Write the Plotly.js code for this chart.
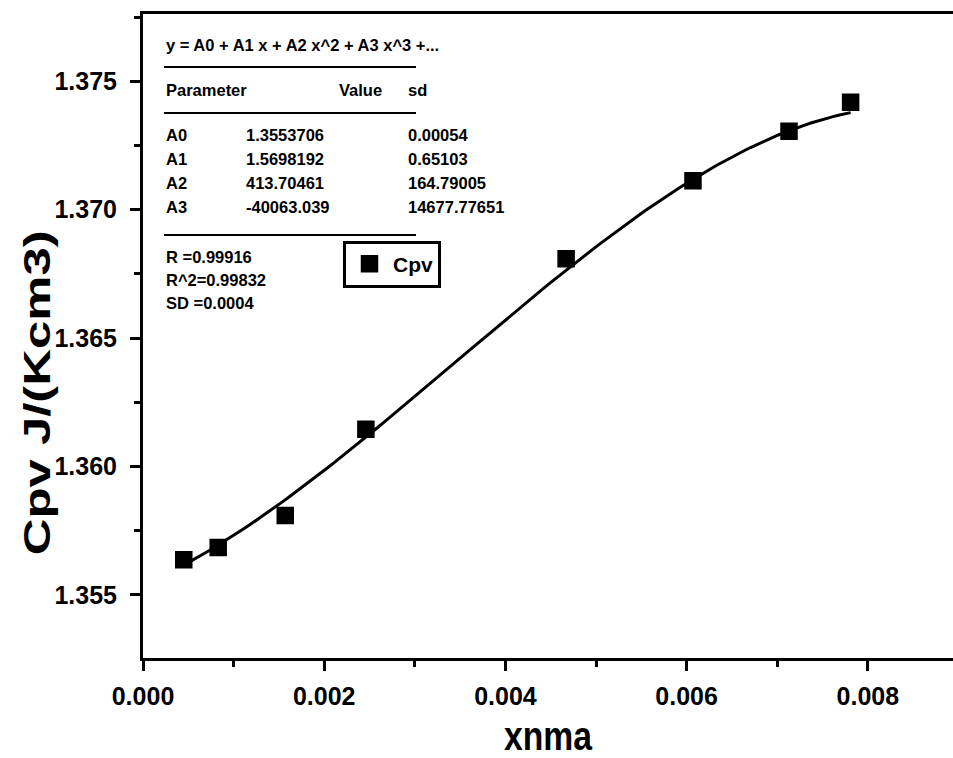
<!DOCTYPE html>
<html>
<head>
<meta charset="utf-8">
<script src="https://cdn.plot.ly/plotly-3.0.1.min.js"></script>
<style>
  html, body { margin: 0; padding: 0; background: #ffffff; }
  #chart { width: 953px; height: 758px; }
</style>
</head>
<body>
<div id="chart"></div>
<script>
// Measured heat capacity Cpv against xnma
const xnma = [0.00045, 0.00083, 0.00157, 0.00246, 0.00467, 0.00607, 0.00713, 0.00781];
const cpv  = [1.35637, 1.35684, 1.35809, 1.36145, 1.36809, 1.37113, 1.37305, 1.37418];

// Cubic polynomial fit y = A0 + A1 x + A2 x^2 + A3 x^3
const paramNames  = ['A0', 'A1', 'A2', 'A3'];
const paramValues = [1.3553706, 1.5698192, 413.70461, -40063.039];
const paramSd     = [0.00054, 0.65103, 164.79005, 14677.77651];
const fitStats    = { R: '0.99916', R2: '0.99832', SD: '0.0004' };

const xTicks = [0, 0.002, 0.004, 0.006, 0.008];
const yTicks = [1.355, 1.360, 1.365, 1.370, 1.375];

// Fitted curve evaluated from the fit parameters across the measured span
const fitX = [], fitY = [];
const nFit = 120;
for (let i = 0; i <= nFit; i++) {
  const x = xnma[0] + (xnma[xnma.length - 1] - xnma[0]) * i / nFit;
  let y = 0;
  for (let k = 0; k < paramValues.length; k++) y += paramValues[k] * Math.pow(x, k);
  fitX.push(x); fitY.push(y);
}

// Plot frame in pixels
const W = 953, H = 758;
const M = { l: 143, r: 0, t: 14, b: 100 };
const PW = W - M.l - M.r, PH = H - M.t - M.b;
const px = v => (v - M.l) / PW;
const py = v => (H - M.b - v) / PH;

const FONT = 'Liberation Sans, Arial, sans-serif';
const boxFont = { family: FONT, size: 16.5, color: '#000', weight: 700 };

const annotations = [];
function label(text, x, y, anchor) {
  annotations.push({
    text: text, xref: 'paper', yref: 'paper', x: px(x), y: py(y),
    xanchor: anchor || 'left', yanchor: 'middle', showarrow: false, font: boxFont
  });
}

label('y = A0 + A1 x + A2 x^2 + A3 x^3 +...', 164, 45);
label('Parameter', 164, 90);
label('Value', 337, 90);
label('sd', 406, 90);
paramNames.forEach((n, i) => {
  const yy = 135 + i * 24;
  label(n, 164, yy);
  label(String(paramValues[i]), 244, yy);
  label(String(paramSd[i]), 406, yy);
});
label('R =' + fitStats.R, 164, 257);
label('R^2=' + fitStats.R2, 164, 280);
label('SD =' + fitStats.SD, 164, 303);

// Vertical axis title
annotations.push({
  text: 'Cpv J/(Kcm3)', xref: 'paper', yref: 'paper',
  x: px(38), y: py(393), xanchor: 'center', yanchor: 'middle',
  textangle: -90, showarrow: false,
  font: { family: FONT, size: 37, color: '#000', weight: 700 }
});

const rule = y => ({
  type: 'line', xref: 'paper', yref: 'paper',
  x0: px(164), x1: px(416), y0: py(y), y1: py(y),
  line: { color: '#000', width: 2 }
});
const shapes = [rule(67), rule(113), rule(235)];

const traces = [
  {
    x: fitX, y: fitY, type: 'scatter', mode: 'lines',
    line: { color: '#000', width: 3 }, showlegend: false, hoverinfo: 'skip'
  },
  {
    x: xnma, y: cpv, type: 'scatter', mode: 'markers', name: 'Cpv',
    marker: { symbol: 'square', size: 16, color: '#000', line: { color: '#000', width: 1.5 } }
  }
];

const axisBase = {
  showline: true, linecolor: '#000', linewidth: 3,
  showgrid: false, zeroline: false,
  ticks: 'outside', ticklen: 10, tickwidth: 3, tickcolor: '#000',
  tickfont: { family: FONT, size: 25, color: '#000', weight: 700 },
  tickformat: '.3f'
};

const layout = {
  width: W, height: H,
  margin: M,
  paper_bgcolor: '#fff', plot_bgcolor: '#fff',
  font: { family: FONT, color: '#000' },
  xaxis: Object.assign({}, axisBase, {
    range: [0, 0.00894], tickvals: xTicks, mirror: true,
    ticklabelstandoff: 4,
    minor: { dtick: 0.001, ticks: 'outside', ticklen: 6, tickwidth: 3, tickcolor: '#000' },
    title: { text: 'xnma', standoff: 18, font: { family: FONT, size: 40, color: '#000', weight: 700 } }
  }),
  yaxis: Object.assign({}, axisBase, {
    range: [1.35254, 1.37762], tickvals: yTicks, mirror: false,
    ticklabelstandoff: 8,
    minor: { dtick: 0.0025, ticks: 'outside', ticklen: 6, tickwidth: 3, tickcolor: '#000' }
  }),
  legend: {
    x: px(343), y: py(264), xanchor: 'left', yanchor: 'middle',
    bgcolor: '#fff', bordercolor: '#000', borderwidth: 3,
    font: { family: FONT, size: 21, color: '#000', weight: 700 },
    itemwidth: 37
  },
  annotations: annotations,
  shapes: shapes
};

// Condensed, tall lettering for the axis titles
function condense(el, length) {
  if (!el) return;
  el.setAttribute('textLength', length);
  el.setAttribute('lengthAdjust', 'spacingAndGlyphs');
}

Plotly.newPlot('chart', traces, layout, { displayModeBar: false, staticPlot: true }).then(gd => {
  condense(gd.querySelector('.xtitle'), 88);
  const notes = gd.querySelectorAll('.annotation-text');
  condense(notes[notes.length - 1], 325);
});
</script>
</body>
</html>
